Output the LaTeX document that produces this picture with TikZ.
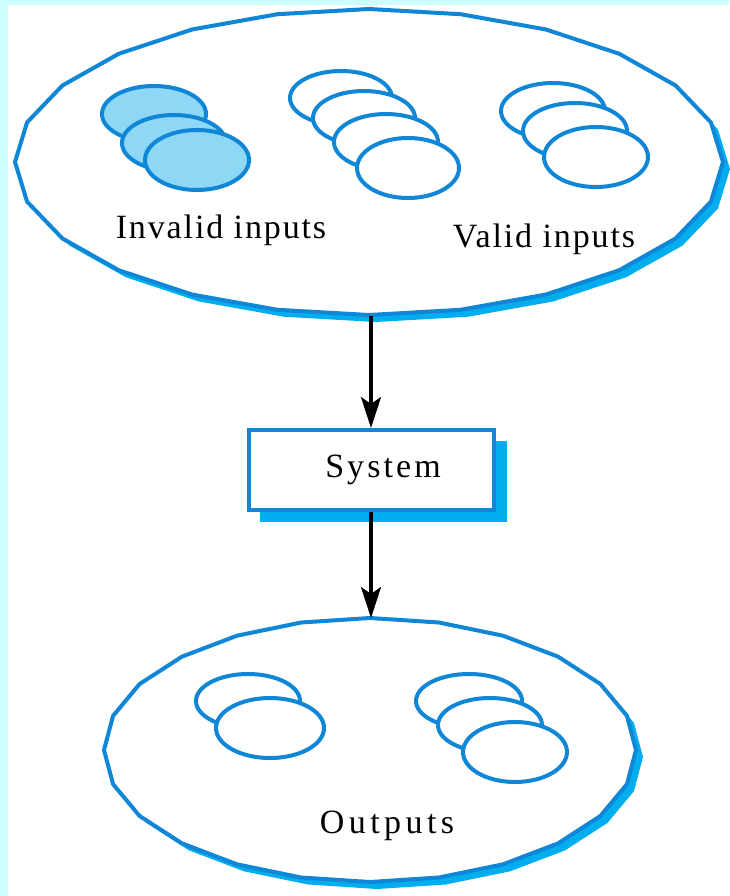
\documentclass[tikz,border=0pt]{standalone}
\usepackage{fontspec}
\setmainfont{Liberation Serif}
\usetikzlibrary{arrows.meta}
\definecolor{bgc}{HTML}{CCFFFF}
\definecolor{edgeblue}{HTML}{1086D6}
\definecolor{shadc}{HTML}{00AEEF}
\definecolor{lfill}{HTML}{8ED8F5}
\tikzset{
  outerset/.style={draw=edgeblue, line width=4pt, fill=white, line join=round},
  shadset/.style={fill=shadc},
  innerw/.style={draw=edgeblue, line width=4pt, fill=white},
  innerf/.style={draw=edgeblue, line width=4pt, fill=lfill},
  lbl/.style={font=\fontsize{34}{40}\selectfont\addfontfeatures{LetterSpace=5.5}, inner sep=0pt, anchor=base},
  arr/.style={draw=black, line width=3.5pt, -{Stealth[length=31pt,width=20pt,inset=7pt]}},
  sysbox/.style={draw=edgeblue, line width=4pt, fill=white, minimum width=245pt, minimum height=80pt, inner sep=0pt}
}
\begin{document}
\begin{tikzpicture}[x=1pt,y=-1pt]
\fill[bgc] (0,0) rectangle (729,896);
\fill[white] (8,5) rectangle (729,896);
\useasboundingbox (0,0) rectangle (729,896);

% ---- top set (inputs)
\fill[shadset] plot[samples=25,domain=0:360,variable=\t] ({376+354*cos(\t)},{169+153*sin(\t)}) -- cycle;
\draw[outerset] plot[samples=25,domain=0:360,variable=\t] ({369+354*cos(\t)},{162+153*sin(\t)}) -- cycle;
\coordinate (inB) at (371,316);

% invalid group
\draw[innerf] (154,114) ellipse [x radius=52, y radius=28];
\draw[innerf] (174,143) ellipse [x radius=52, y radius=28];
\draw[innerf] (197,160) ellipse [x radius=52, y radius=30];
% middle valid group
\draw[innerw] (341,98) ellipse [x radius=51, y radius=27];
\draw[innerw] (364,118) ellipse [x radius=51, y radius=27];
\draw[innerw] (386,142) ellipse [x radius=52, y radius=28];
\draw[innerw] (408,168) ellipse [x radius=51, y radius=30];
% right valid group
\draw[innerw] (553,111) ellipse [x radius=52, y radius=28];
\draw[innerw] (575,131) ellipse [x radius=52, y radius=28];
\draw[innerw] (596,157) ellipse [x radius=52, y radius=30];

\node[lbl] (invl) at (221,238) {Invalid inputs};
\node[lbl] (vall) at (544,247) {Valid inputs};

% ---- system
\fill[shadset] (260,441) rectangle (507,522);
\node[sysbox] (sys) at (371,470) {};
\node[lbl, font=\fontsize{34}{40}\selectfont\addfontfeatures{LetterSpace=9}] (syst) at (383,477) {System};

% ---- bottom set (outputs)
\fill[shadset] plot[samples=25,domain=0:360,variable=\t] ({377+266*cos(\t)},{757+132*sin(\t)}) -- cycle;
\draw[outerset] plot[samples=25,domain=0:360,variable=\t] ({370+266*cos(\t)},{750+132*sin(\t)}) -- cycle;
\coordinate (outT) at (371,618);

\draw[innerw] (248,701) ellipse [x radius=52, y radius=27];
\draw[innerw] (270,728) ellipse [x radius=54, y radius=30];
\draw[innerw] (469,701) ellipse [x radius=53, y radius=27];
\draw[innerw] (490,725) ellipse [x radius=52, y radius=27];
\draw[innerw] (515,752) ellipse [x radius=52, y radius=30];

\node[lbl, font=\fontsize{34}{40}\selectfont\addfontfeatures{LetterSpace=13}] (outl) at (387,833) {Outputs};

% ---- connectors
\draw[arr] (inB) -- (sys.north);
\draw[arr] (sys.south) -- (outT);
\end{tikzpicture}
\end{document}
